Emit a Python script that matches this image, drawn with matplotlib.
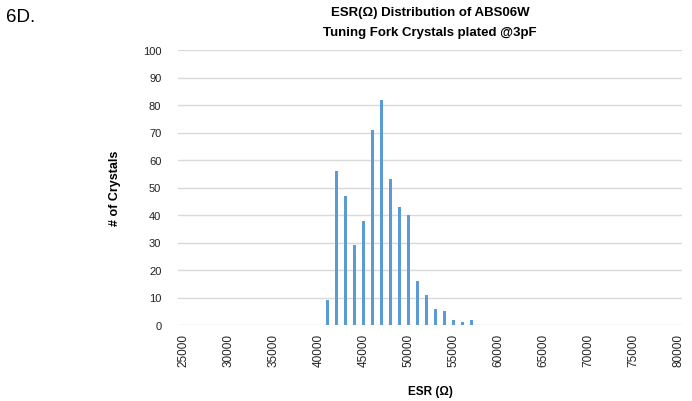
import numpy as np
import matplotlib.pyplot as plt

plt.rcParams['font.family'] = ['Liberation Sans', 'DejaVu Sans']

# ESR bins (ohm) and counts
esr = [41000, 42000, 43000, 44000, 45000, 46000, 47000, 48000, 49000,
       50000, 51000, 52000, 53000, 54000, 55000, 56000, 57000]
counts = [9, 56, 47, 29, 38, 71, 82, 53, 43, 40, 16, 11, 6, 5, 2, 1, 2]

x_ticks = list(range(25000, 80001, 5000))
y_ticks = list(range(0, 101, 10))

fig = plt.figure(figsize=(6.92, 4.02), dpi=100)
ax = fig.add_axes([178 / 692, 1 - 326 / 402, 504 / 692, 275 / 402])

ax.bar(esr, counts, width=360, color='#5b9bd5', zorder=3)

ax.set_xlim(24400, 80400)
ax.set_ylim(0, 100)
ax.set_xticks(x_ticks)
ax.set_xticklabels([str(t) for t in x_ticks], rotation=90, fontsize=8.5)
ax.set_yticks(y_ticks)
ax.set_yticklabels([str(t) for t in y_ticks], fontsize=8)
ax.tick_params(axis='both', length=0, colors='#222222')
ax.tick_params(axis='y', pad=12)
ax.tick_params(axis='x', pad=6)

ax.grid(axis='y', color='#d9d9d9', linewidth=1, zorder=0)
for s in ax.spines.values():
    s.set_visible(False)

ax.set_xlabel('ESR (Ω)', fontsize=8.5, fontweight='bold', labelpad=13)
ax.set_ylabel('# of Crystals', fontsize=9, fontweight='bold', labelpad=16)

fig.text(430 / 692, 1 - 13 / 402, 'ESR(Ω) Distribution of ABS06W',
         ha='center', va='center', fontsize=9.5, fontweight='bold')
fig.text(430 / 692, 1 - 33 / 402, 'Tuning Fork Crystals plated @3pF',
         ha='center', va='center', fontsize=9.5, fontweight='bold')
fig.text(6 / 692, 1 - 18 / 402, '6D.', ha='left', va='center', fontsize=13.5)

fig.savefig('out.png', dpi=100)
